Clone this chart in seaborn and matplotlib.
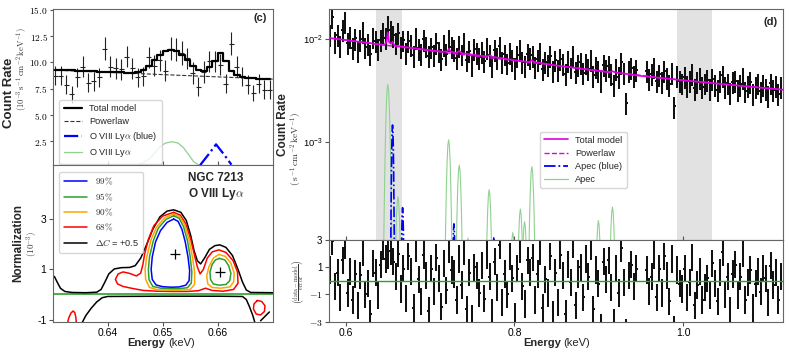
import numpy as np
import matplotlib
matplotlib.use("Agg")
import matplotlib.pyplot as plt
import seaborn as sns
from matplotlib.lines import Line2D
from matplotlib.ticker import FixedLocator, FuncFormatter, NullLocator, LogFormatterSciNotation

# ------------------------------------------------------------------ data (c) top
c_energy = [0.6305, 0.6315, 0.6325, 0.6335, 0.6345, 0.6355, 0.6365, 0.6375, 0.6385, 0.6395,
            0.6405, 0.6415, 0.6425, 0.6435, 0.6445, 0.6455, 0.6465, 0.6475, 0.6485, 0.6495,
            0.6505, 0.6515, 0.6525, 0.6535, 0.6545, 0.6555, 0.6565, 0.6575, 0.6585, 0.6595,
            0.6605, 0.6615, 0.6625, 0.6635, 0.6645, 0.6655, 0.6665, 0.6675, 0.6685, 0.6695]
c_rate = [8.75, 8.75, 7.9, 7.0, 8.6, 9.6, 8.1, 8.2, 8.6, 11.3,
          9.6, 9.45, 9.35, 10.55, 9.45, 8.6, 8.7, 10.5, 9.7, 10.2,
          9.2, 11.3, 11.2, 10.9, 10.4, 9.0, 7.7, 9.1, 10.1, 10.1,
          9.8, 8.0, 11.8, 9.6, 8.7, 7.9, 7.1, 8.0, 7.4, 7.4]
c_err = [0.9, 0.9, 0.9, 0.8, 0.9, 1.0, 0.9, 0.9, 0.9, 1.1,
         1.0, 1.0, 1.0, 1.0, 1.0, 0.9, 0.9, 1.0, 1.0, 1.0,
         1.0, 1.1, 1.1, 1.1, 1.0, 1.0, 0.9, 1.0, 1.0, 1.0,
         1.0, 0.9, 1.1, 1.0, 0.9, 0.9, 0.8, 0.9, 0.9, 0.9]
c_model = [9.3, 9.28, 9.26, 9.24, 9.22, 9.2, 9.18, 9.16, 9.14, 9.12,
           9.1, 9.08, 9.06, 9.04, 9.04, 9.1, 9.3, 9.7, 10.2, 10.7,
           11.05, 11.2, 11.1, 10.75, 10.25, 9.7, 9.25, 9.15, 9.6, 10.1,
           10.9, 10.1, 9.2, 8.8, 8.65, 8.55, 8.5, 8.45, 8.42, 8.4]
c_pl_energy = [0.63, 0.65, 0.67]
c_pl = [9.28, 8.85, 8.42]
c_o8_energy = [0.6455, 0.6465, 0.6477, 0.6487, 0.6495, 0.6505, 0.6517, 0.6528, 0.6538, 0.6548, 0.6556, 0.6566]
c_o8 = [0.25, 0.5, 0.93, 1.5, 2.0, 2.35, 2.48, 2.35, 1.9, 1.2, 0.6, 0.25]
c_o8b_energy = [0.6568, 0.6583, 0.6597, 0.6611, 0.6625]
c_o8b = [0.25, 1.25, 2.23, 1.3, 0.3]

# ------------------------------------------------------------------ contours (c) bottom
blue_e = [0.6520, 0.6528, 0.6535, 0.6541, 0.6546, 0.6549, 0.6548, 0.6542, 0.6530, 0.6515, 0.6500, 0.6488,
          0.6481, 0.6479, 0.6481, 0.6487, 0.6496, 0.6508, 0.6520]
blue_n = [3.01, 2.92, 2.6, 2.1, 1.5, 0.95, 0.55, 0.37, 0.30, 0.29, 0.31, 0.38, 0.6, 1.0, 1.5, 2.1, 2.55, 2.88, 3.01]
green_e = [0.6520, 0.6530, 0.6538, 0.6545, 0.6550, 0.6553, 0.6552, 0.6545, 0.6530, 0.6513, 0.6497, 0.6482,
           0.6475, 0.6474, 0.6476, 0.6483, 0.6492, 0.6506, 0.6520]
green_n = [3.14, 3.04, 2.7, 2.15, 1.5, 0.9, 0.45, 0.27, 0.23, 0.23, 0.25, 0.32, 0.6, 1.0, 1.5, 2.15, 2.65, 3.0, 3.14]
green2_e = [0.6603, 0.6613, 0.6620, 0.6624, 0.6622, 0.6615, 0.6603, 0.6592, 0.6587, 0.6586, 0.6590, 0.6596, 0.6603]
green2_n = [1.44, 1.38, 1.15, 0.85, 0.55, 0.4, 0.37, 0.42, 0.6, 0.9, 1.2, 1.38, 1.44]
orange_e = [0.6520, 0.6531, 0.6540, 0.6548, 0.6554, 0.6558, 0.6558, 0.6550, 0.6530, 0.6510, 0.6490, 0.6476,
            0.6469, 0.6468, 0.6471, 0.6479, 0.6489, 0.6504, 0.6520]
orange_n = [3.21, 3.11, 2.78, 2.2, 1.5, 0.9, 0.4, 0.2, 0.17, 0.17, 0.19, 0.28, 0.6, 1.0, 1.5, 2.2, 2.7, 3.07, 3.21]
orange2_e = [0.6602, 0.6614, 0.6624, 0.6630, 0.6629, 0.6622, 0.6605, 0.6590, 0.6582, 0.6580, 0.6584, 0.6592, 0.6602]
orange2_n = [1.6, 1.52, 1.25, 0.85, 0.5, 0.3, 0.25, 0.28, 0.42, 0.75, 1.1, 1.45, 1.6]
red_e = [0.6520, 0.6532, 0.6542, 0.6551, 0.6558, 0.6563, 0.6568, 0.6574, 0.6581, 0.6590, 0.6602, 0.6615,
         0.6628, 0.6636, 0.6637, 0.6629, 0.6610, 0.6590, 0.6578, 0.6565, 0.6545, 0.6520, 0.6490, 0.6465,
         0.6445, 0.6428, 0.6418, 0.6414, 0.6419, 0.6428, 0.6440, 0.6452, 0.6460, 0.6464, 0.6467, 0.6474,
         0.6484, 0.6500, 0.6520]
red_n = [3.28, 3.17, 2.82, 2.2, 1.55, 1.1, 0.82, 1.0, 1.45, 1.7, 1.78, 1.68,
         1.35, 0.9, 0.45, 0.2, 0.13, 0.16, 0.25, 0.15, 0.12, 0.12, 0.13, 0.16,
         0.24, 0.32, 0.42, 0.6, 0.82, 0.9, 0.84, 0.74, 0.85, 1.2, 1.6, 2.2,
         2.75, 3.13, 3.28]
red_bl_e = [0.6327, 0.6329, 0.6333, 0.6337, 0.6340, 0.6342, 0.6343]
red_bl_n = [-1.15, -0.95, -0.75, -0.66, -0.72, -0.9, -1.15]
red_br_e = [0.6672, 0.6680, 0.6686, 0.6685, 0.6678, 0.6670, 0.6665, 0.6666, 0.6672]
red_br_n = [-0.24, -0.28, -0.45, -0.68, -0.82, -0.78, -0.58, -0.38, -0.24]
black_up_e = [0.6303, 0.6308, 0.6314, 0.6322, 0.6335, 0.6360, 0.6380, 0.6388, 0.6395, 0.6402, 0.6412,
              0.6425, 0.6440, 0.6450, 0.6460, 0.6470, 0.6482, 0.6495, 0.6508, 0.6520, 0.6533, 0.6543,
              0.6551, 0.6557, 0.6563, 0.6569, 0.6576, 0.6585, 0.6595, 0.6604, 0.6615, 0.6627, 0.6637,
              0.6645, 0.6652, 0.6660, 0.6700]
black_up_n = [0.72, 0.5, 0.25, 0.12, 0.08, 0.07, 0.09, 0.2, 0.5, 0.82, 1.02,
              1.07, 1.08, 1.15, 1.45, 1.95, 2.6, 3.1, 3.33, 3.38, 3.28, 2.95,
              2.35, 1.75, 1.35, 1.22, 1.45, 1.8, 1.95, 1.98, 1.88, 1.55, 1.0,
              0.5, 0.18, 0.08, 0.07]
black_lo_e = [0.6353, 0.6360, 0.6370, 0.6380, 0.6390, 0.6400, 0.6500, 0.6600, 0.6645, 0.6652, 0.6658, 0.6664, 0.6668]
black_lo_n = [-1.15, -0.85, -0.55, -0.3, -0.13, -0.08, -0.07, -0.07, -0.08, -0.2, -0.5, -0.85, -1.15]
black_br_e = [0.6678, 0.6694]
black_br_n = [-1.05, -0.7]
best_e = [0.6522, 0.6604]
best_n = [1.6, 0.91]

# ------------------------------------------------------------------ data (d)
d_bin_width = 0.003
d_energy = np.round(0.5815 + d_bin_width * np.arange(179), 4)
d_rate = [11.0, 16.5, 9.4, 10.9, 8.6, 12.3, 14.8, 9.1, 10.6, 8.2,
          10.1, 7.6, 9.9, 11.8, 8.3, 9.0, 7.1, 10.4, 9.6, 8.0,
          9.8, 11.6, 10.2, 13.4, 12.1, 10.8, 9.2, 11.5, 8.4, 9.7,
          7.4, 9.6, 8.8, 6.9, 10.3, 8.1, 7.2, 9.9, 8.5, 6.8,
          8.3, 7.0, 9.1, 7.6, 6.4, 8.8, 7.2, 9.8, 8.4, 7.9,
          6.5, 8.6, 7.1, 9.3, 6.2, 7.7, 5.6, 8.0, 7.4, 6.6,
          7.5, 6.1, 8.2, 7.0, 5.5, 7.8, 6.6, 8.5, 6.0, 7.1,
          5.8, 7.4, 6.3, 5.2, 6.9, 7.9, 6.0, 5.5, 7.2, 6.6,
          6.9, 5.4, 6.3, 7.3, 5.1, 6.0, 5.6, 6.8, 4.9, 6.2,
          5.0, 6.4, 5.7, 4.6, 6.1, 5.3, 6.9, 4.8, 5.6, 5.9,
          4.7, 5.8, 5.1, 6.3, 4.4, 5.4, 4.9, 3.9, 5.6, 5.0,
          5.5, 4.6, 3.6, 5.1, 4.3, 5.9, 4.7, 2.4, 4.9, 5.2,
          4.4, 5.0, np.nan, np.nan, np.nan, 4.9, 4.1, 4.6, 5.3, 3.9,
          4.5, 3.8, 4.9, 4.2, 3.6, 4.7, 2.2, 4.4, 3.9, 3.7,
          4.3, 3.5, 3.9, 4.6, 3.3, 3.8, 4.2, 3.4, 3.7, 4.0,
          3.3, 4.1, 3.6, 3.2, 3.9, 4.4, 3.4, 3.7, 3.0, 3.8,
          3.9, 3.2, 3.6, 4.2, 3.1, 3.5, 3.8, 2.9, 3.4, 3.7,
          3.1, 3.6, 3.3, 2.8, 3.7, 3.2, 3.5, 2.9, 3.4]
d_rel_err = 0.24
d_resid = [0.8, 2.9, -0.4, 0.6, -1.2, 1.5, 2.6, -0.9, 0.7, -1.4,
           0.5, -1.8, 0.4, 2.1, -1.0, -0.2, -2.4, 1.3, 0.6, -1.1,
           1.2, 2.5, 1.6, 1.9, 2.2, 1.4, 0.3, 2.0, -0.6, 0.9,
           -1.3, 1.8, 0.7, -2.0, 2.4, 0.1, -1.5, 1.9, 0.4, -2.2,
           0.9, -0.8, 1.7, 0.2, -1.9, 1.3, -0.7, 2.3, 0.8, 0.5,
           -1.4, 1.6, -0.3, 2.2, -2.1, 0.6, -2.8, 1.0, 0.4, -0.9,
           1.1, -1.3, 1.9, 0.3, -2.3, 1.4, -0.5, 2.6, -1.6, 0.5,
           -1.0, 1.8, 0.2, -2.6, 0.9, 2.3, -0.4, -1.7, 1.5, 0.6,
           1.7, -1.4, 0.5, 2.2, -2.0, 0.1, -0.9, 1.8, -2.5, 0.6,
           -1.6, 1.9, 0.4, -2.4, 1.2, -0.1, 2.7, -1.8, 0.5, 1.0,
           -1.2, 1.6, 0.3, 2.5, -2.1, 0.8, -0.2, -3.4, 1.4, 0.1,
           1.5, -0.5, -3.1, 0.9, -0.9, 2.4, -0.1, -3.8, 0.4, 1.2,
           -0.4, 0.9, np.nan, np.nan, np.nan, 0.8, -0.8, 0.3, 1.9, -1.2,
           0.9, -0.9, 1.8, 0.4, -1.5, 1.6, -3.6, 0.8, -0.2, -0.6,
           0.9, -1.2, -0.1, 1.7, -1.8, -0.3, 0.7, -1.4, -0.5, 0.2,
           -1.1, 1.3, -0.2, -1.5, 0.6, 2.1, -1.0, 0.3, -2.2, 0.5,
           1.2, -1.1, 0.3, 2.0, -1.4, -0.1, 0.8, -2.0, -0.2, 0.7,
           -0.8, 0.9, 0.2, -1.6, 1.1, -0.3, 0.6, -1.4, 0.3]
d_model_energy = [0.58, 0.60, 0.62, 0.64, 0.646, 0.6485, 0.650, 0.6515, 0.654, 0.6555, 0.6575, 0.66,
                  0.67, 0.69, 0.715, 0.7205, 0.7225, 0.7245, 0.731, 0.7345, 0.738, 0.76, 0.7675,
                  0.7705, 0.7735, 0.80, 0.8175, 0.8205, 0.8235, 0.85, 0.88, 0.912, 0.916, 0.92,
                  0.95, 1.0, 1.05, 1.118]
d_model = [10.2, 9.75, 9.3, 8.85, 8.75, 9.3, 11.6, 9.3, 8.95, 9.4, 8.7, 8.55,
           8.35, 7.95, 7.5, 7.55, 8.0, 7.5, 7.3, 7.6, 7.25, 6.85, 6.75,
           6.95, 6.7, 6.2, 5.95, 6.2, 5.95, 5.5, 5.1, 4.72, 4.85, 4.7,
           4.35, 3.95, 3.6, 3.2]
d_pl_energy = [0.58, 0.70, 0.85, 1.0, 1.118]
d_pl = [10.2, 7.65, 5.5, 3.95, 3.2]
apec_centers = [0.650, 0.662, 0.722, 0.7346, 0.745, 0.770, 0.798, 0.807, 0.812, 0.8206, 0.8994, 0.916]
apec_peaks = [3.6, 0.29, 1.04, 0.59, 0.115, 0.34, 0.13, 0.22, 0.166, 0.57, 0.17, 0.23]
apecb_centers = [0.6556, 0.6675, 0.7283, 0.7756]
apecb_peaks = [1.45, 0.227, 0.158, 0.118]
grey_bands = [(0.636, 0.667), (0.993, 1.034)]

# line profile shape (offsets in units of the line width)
prof_off = np.array([-3, -2.5, -2, -1.5, -1, -0.5, 0, 0.5, 1, 1.5, 2, 2.5, 3])
prof_shape = np.array([0.011, 0.044, 0.135, 0.325, 0.607, 0.882, 1.0, 0.882, 0.607, 0.325, 0.135, 0.044, 0.011])

# ------------------------------------------------------------------ style
sns.set_style("ticks")
plt.rcParams["font.family"] = ["Liberation Sans", "DejaVu Sans"]
plt.rcParams["mathtext.fontset"] = "cm"
plt.rcParams["axes.edgecolor"] = "#666666"
plt.rcParams["axes.linewidth"] = 0.8
plt.rcParams["xtick.color"] = "#555555"
plt.rcParams["ytick.color"] = "#555555"
plt.rcParams["xtick.labelcolor"] = "black"
plt.rcParams["ytick.labelcolor"] = "black"

GREEN = "#2ca02c"
LGREEN = "#8fd18f"
MAG = "#e000e0"
TS = 7

fig = plt.figure(figsize=(7.89, 3.53), dpi=100)
ax_c = fig.add_axes([0.0668, 0.5326, 0.2788, 0.4411])
ax_n = fig.add_axes([0.0668, 0.0878, 0.2788, 0.4448])
ax_d = fig.add_axes([0.4166, 0.3201, 0.5758, 0.6535])
ax_r = fig.add_axes([0.4166, 0.0887, 0.5758, 0.2314])

# ------------------------------------------------------------------ panel (c) top
ax_c.errorbar(c_energy, c_rate, yerr=c_err, xerr=0.00045, fmt="none", ecolor="#222222", elinewidth=0.8, zorder=2)
sns.lineplot(x=c_energy, y=c_model, ax=ax_c, color="black", lw=1.6, drawstyle="steps-mid", legend=False, zorder=4)
sns.lineplot(x=c_pl_energy, y=c_pl, ax=ax_c, color="#333333", lw=0.8, linestyle="--", legend=False, zorder=3)
sns.lineplot(x=c_o8_energy, y=c_o8, ax=ax_c, color=LGREEN, lw=0.9, legend=False, zorder=3)
sns.lineplot(x=c_o8b_energy, y=c_o8b, ax=ax_c, color="blue", lw=1.6, linestyle="-.", legend=False, zorder=3)
ax_c.set_xlim(0.63, 0.67)
ax_c.set_ylim(0.27, 15.05)
ax_c.yaxis.set_major_locator(FixedLocator([2.5, 5.0, 7.5, 10.0, 12.5, 15.0]))
ax_c.yaxis.set_major_formatter(FuncFormatter(lambda v, p: r"$%.1f$" % v))
ax_c.xaxis.set_major_locator(FixedLocator([0.64, 0.65, 0.66]))
ax_c.tick_params(axis="x", direction="in", length=3, labelbottom=False)
ax_c.tick_params(axis="y", length=2.5, labelsize=6.8, pad=1)
ax_c.text(0.975, 0.975, "(c)", transform=ax_c.transAxes, ha="right", va="top", fontsize=8, fontweight="bold")
h_c = [Line2D([], [], color="black", lw=1.6), Line2D([], [], color="#333333", lw=0.8, ls="--"),
       Line2D([], [], color="blue", lw=1.6, ls="-."), Line2D([], [], color=LGREEN, lw=0.9)]
ax_c.legend(h_c, ["Total model", "Powerlaw", r"O VIII Ly$\alpha$ (blue)", r"O VIII Ly$\alpha$"],
            loc="lower left", bbox_to_anchor=(0.01, -0.02), fontsize=6.6, labelspacing=0.45,
            handlelength=2.0, borderpad=0.45, framealpha=0.8)

# ------------------------------------------------------------------ panel (c) bottom
ax_n.axhline(0, color=GREEN, lw=1.2, zorder=1)
for e, n, col in [(black_up_e, black_up_n, "black"), (black_lo_e, black_lo_n, "black"),
                  (black_br_e, black_br_n, "black"),
                  (red_e, red_n, "red"), (red_bl_e, red_bl_n, "red"), (red_br_e, red_br_n, "red"),
                  (orange_e, orange_n, "orange"), (orange2_e, orange2_n, "orange"),
                  (green_e, green_n, GREEN), (green2_e, green2_n, GREEN),
                  (blue_e, blue_n, "blue")]:
    sns.lineplot(x=e, y=n, ax=ax_n, color=col, lw=1.1, sort=False, estimator=None, legend=False)
ax_n.plot(best_e, best_n, "+", color="black", ms=7, mew=0.9)
ax_n.set_xlim(0.63, 0.67)
ax_n.set_ylim(-1.1, 5.17)
ax_n.xaxis.set_major_locator(FixedLocator([0.64, 0.65, 0.66]))
ax_n.yaxis.set_major_locator(FixedLocator([-1, 1, 3]))
ax_n.yaxis.set_major_formatter(FuncFormatter(lambda v, p: "%d" % v))
ax_n.tick_params(axis="y", length=3, labelsize=7.5, pad=1.5)
ax_n.tick_params(axis="x", length=3, labelsize=7.5, pad=1.2)
ax_n.text(0.615, 0.955, "NGC 7213\n" + r"O VIII Ly$\alpha$", transform=ax_n.transAxes, ha="left", va="top",
          fontsize=8.5, fontweight="bold", linespacing=1.15)
h_n = [Line2D([], [], color=c, lw=1.1) for c in ["blue", GREEN, "orange", "red", "black"]]
ax_n.legend(h_n, [r"$99\%$", r"$95\%$", r"$90\%$", r"$68\%$", r"$\Delta C$ = +0.5"],
            loc="upper left", bbox_to_anchor=(0.01, 0.985), fontsize=6.6, labelspacing=0.45,
            handlelength=2.6, borderpad=0.45, framealpha=0.8)

# ------------------------------------------------------------------ panel (d) top
for lo, hi in grey_bands:
    ax_d.axvspan(lo, hi, color="#e2e2e2", lw=0, zorder=0)
rate = np.array(d_rate) * 1e-3
ax_d.errorbar(d_energy, rate, yerr=rate * d_rel_err, xerr=d_bin_width / 2, fmt="none",
              ecolor="#111111", elinewidth=1.45, zorder=2)
sns.lineplot(x=d_pl_energy, y=np.array(d_pl) * 1e-3, ax=ax_d, color=MAG, lw=1.0, linestyle="--", legend=False, zorder=3)
sns.lineplot(x=d_model_energy, y=np.array(d_model) * 1e-3, ax=ax_d, color=MAG, lw=1.2, legend=False, zorder=4)
for c0, pk in zip(apec_centers, apec_peaks):
    sns.lineplot(x=c0 + prof_off * 0.0018, y=pk * 1e-3 * prof_shape, ax=ax_d, color=LGREEN, lw=0.8,
                 legend=False, zorder=3)
for c0, pk in zip(apecb_centers, apecb_peaks):
    sns.lineplot(x=c0 + prof_off * 0.0009, y=pk * 1e-3 * prof_shape, ax=ax_d, color="blue", lw=1.2,
                 linestyle="-.", legend=False, zorder=3)
ax_d.set_yscale("log")
ax_d.set_xlim(0.58, 1.118)
ax_d.set_ylim(1.1e-4, 1.94e-2)
ax_d.yaxis.set_major_locator(FixedLocator([1e-4, 1e-3, 1e-2]))
ax_d.yaxis.set_major_formatter(LogFormatterSciNotation())
ax_d.yaxis.set_minor_locator(NullLocator())
ax_d.xaxis.set_major_locator(FixedLocator([0.6, 0.8, 1.0]))
ax_d.tick_params(axis="x", direction="in", length=3, labelbottom=False)
ax_d.tick_params(axis="y", length=3, labelsize=6.8, pad=1.5)
ax_d.text(0.989, 0.967, "(d)", transform=ax_d.transAxes, ha="right", va="top", fontsize=8, fontweight="bold")
h_d = [Line2D([], [], color=MAG, lw=1.2), Line2D([], [], color=MAG, lw=1.0, ls="--"),
       Line2D([], [], color="blue", lw=1.3, ls="-."), Line2D([], [], color=LGREEN, lw=0.9)]
ax_d.legend(h_d, ["Total model", "Powerlaw", "Apec (blue)", "Apec"], loc="upper left",
            bbox_to_anchor=(0.455, 0.49), fontsize=6.6, labelspacing=0.45, handlelength=2.6,
            borderpad=0.45, framealpha=0.8)

# ------------------------------------------------------------------ panel (d) residuals
ax_r.errorbar(d_energy, d_resid, yerr=1.0, xerr=d_bin_width / 2, fmt="none", ecolor="#111111",
              elinewidth=1.45, zorder=2)
ax_r.axhline(0, color=GREEN, lw=1.0, zorder=3)
ax_r.set_xlim(0.58, 1.118)
ax_r.set_ylim(-3, 3)
ax_r.xaxis.set_major_locator(FixedLocator([0.6, 0.8, 1.0]))
ax_r.yaxis.set_major_locator(FixedLocator([-3, -1, 1, 3]))
ax_r.yaxis.set_major_formatter(FuncFormatter(lambda v, p: (r"$%d$" % v) if v < 0 else "%d" % v))
ax_r.tick_params(axis="y", length=3, labelsize=TS, pad=1.5)
ax_r.tick_params(axis="x", length=3, labelsize=7.5, pad=1.2)

# ------------------------------------------------------------------ labels
W, H = 789.0, 353.0
def ftxt(px, py, s, **kw):
    return fig.text(px / W, 1 - py / H, s, **kw)

ftxt(9, 93, "Count Rate", rotation=90, ha="center", va="center", fontsize=9.5, fontweight="bold")
ftxt(22.5, 69, r"$(10^{-3}\,\mathrm{s^{-1}\,cm^{-2}\,keV^{-1}})$", rotation=90, ha="center", va="center",
     fontsize=6.2, color="#333333")
ftxt(18.5, 243.5, "Normalization", rotation=90, ha="center", va="center", fontsize=8.5, fontweight="bold")
ftxt(32, 243.5, r"$(10^{-3})$", rotation=90, ha="center", va="center", fontsize=6.5, color="#333333")
ftxt(283, 125, "Count Rate", rotation=90, ha="center", va="center", fontsize=8.5, fontweight="bold")
ftxt(296, 149, r"$(\;\mathrm{s^{-1}\,cm^{-2}\,keV^{-1}})$", rotation=90, ha="center", va="center",
     fontsize=6.8, color="#333333")
ftxt(298, 282, r"$\left(\frac{\mathrm{data-model}}{\mathrm{error}}\right)$", rotation=90, ha="center",
     va="center", fontsize=6.2, color="#333333")
for xs in (166.5, 562.0):
    ftxt(xs - 1, 345.5, "Energy", ha="right", va="baseline", fontsize=8, fontweight="bold")
    ftxt(xs + 1.5, 345.5, "(keV)", ha="left", va="baseline", fontsize=8)

fig.savefig("out.png", dpi=100)
